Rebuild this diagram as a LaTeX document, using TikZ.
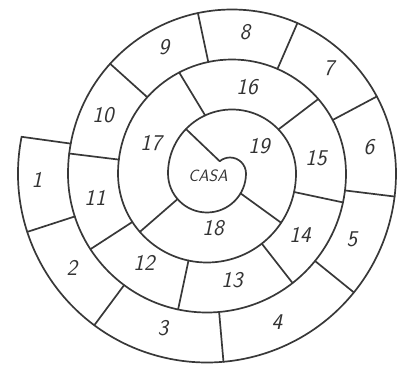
\documentclass[tikz,border=0pt]{standalone}
\begin{document}
\begin{tikzpicture}[x=1pt,y=1pt,
  line/.style={draw=black!78,line width=1.7pt,line cap=round,line join=round},
  num/.style={text=black!80,font=\fontsize{22.5}{24}\selectfont\sffamily\slshape,inner sep=0pt},
  casatext/.style={text=black!80,font=\fontsize{16.5}{18}\selectfont\sffamily\slshape,inner sep=0pt}]
\useasboundingbox (0,0) rectangle (397,365);
\coordinate (C1) at (207,191.5);
\coordinate (C2) at (232,191.5);
% spiral
\draw[line] ([shift={(168.8:189)}]C1) coordinate (start)
  arc[start angle=168.8,end angle=360,radius=189]
  arc[start angle=0,end angle=180,radius=164]
  arc[start angle=180,end angle=360,radius=139]
  arc[start angle=0,end angle=180,radius=114]
  arc[start angle=180,end angle=360,radius=89]
  arc[start angle=0,end angle=180,radius=64]
  arc[start angle=180,end angle=360,radius=39]
  arc[start angle=0,end angle=130,radius=16] coordinate (notch);
% dividers, outer ring
\draw[line] (start) -- ([shift={(169.5:164)}]C2);
\draw[line] ([shift={(198:189)}]C1) -- ([shift={(198:139)}]C1);
\draw[line] ([shift={(233.4:189)}]C1) -- ([shift={(233.4:139)}]C1);
\draw[line] ([shift={(275:189)}]C1) -- ([shift={(275:139)}]C1);
\draw[line] ([shift={(321:189)}]C1) -- ([shift={(321:139)}]C1);
\draw[line] ([shift={(353:189)}]C1) -- ([shift={(353:139)}]C1);
\draw[line] ([shift={(28:164)}]C2) -- ([shift={(28:114)}]C2);
\draw[line] ([shift={(66.5:164)}]C2) -- ([shift={(66.5:114)}]C2);
\draw[line] ([shift={(102:164)}]C2) -- ([shift={(102:114)}]C2);
\draw[line] ([shift={(138:164)}]C2) -- ([shift={(138:114)}]C2);
\draw[line] ([shift={(173:164)}]C2) -- ([shift={(173:114)}]C2);
% middle ring
\draw[line] ([shift={(213:139)}]C1) -- ([shift={(213:89)}]C1);
\draw[line] ([shift={(258:139)}]C1) -- ([shift={(258:89)}]C1);
\draw[line] ([shift={(308:139)}]C1) -- ([shift={(308:89)}]C1);
\draw[line] ([shift={(348:139)}]C1) -- ([shift={(348:89)}]C1);
\draw[line] ([shift={(40.8:114)}]C2) -- ([shift={(43.5:64)}]C2);
\draw[line] ([shift={(117.6:114)}]C2) -- ([shift={(114.8:64)}]C2);
% inner ring
\draw[line] ([shift={(221:89)}]C1) -- ([shift={(221:39)}]C1);
\draw[line] ([shift={(326.4:89)}]C1) -- ([shift={(329.4:39)}]C1);
\draw[line] (notch) -- ([shift={(136:64)}]C2);
% labels
\node[num] (l1) at (37,185) {1};
\node[num] (l2) at (72,97) {2};
\node[num] (l3) at (163,37) {3};
\node[num] (l4) at (277,43) {4};
\node[num] (l5) at (352,126) {5};
\node[num] (l6) at (369,218) {6};
\node[num] (l7) at (329,297) {7};
\node[num] (l8) at (245,333) {8};
\node[num] (l9) at (164,318) {9};
\node[num] (l10) at (103,250) {10};
\node[num] (l11) at (95,167) {11};
\node[num] (l12) at (144,102) {12};
\node[num] (l13) at (232,85) {13};
\node[num] (l14) at (300,130) {14};
\node[num] (l15) at (316,207) {15};
\node[num] (l16) at (247,278) {16};
\node[num] (l17) at (151,222) {17};
\node[num] (l18) at (213,137) {18};
\node[num] (l19) at (259,219) {19};
\node[casatext] (casa) at (208,189) {CASA};
\end{tikzpicture}
\end{document}
